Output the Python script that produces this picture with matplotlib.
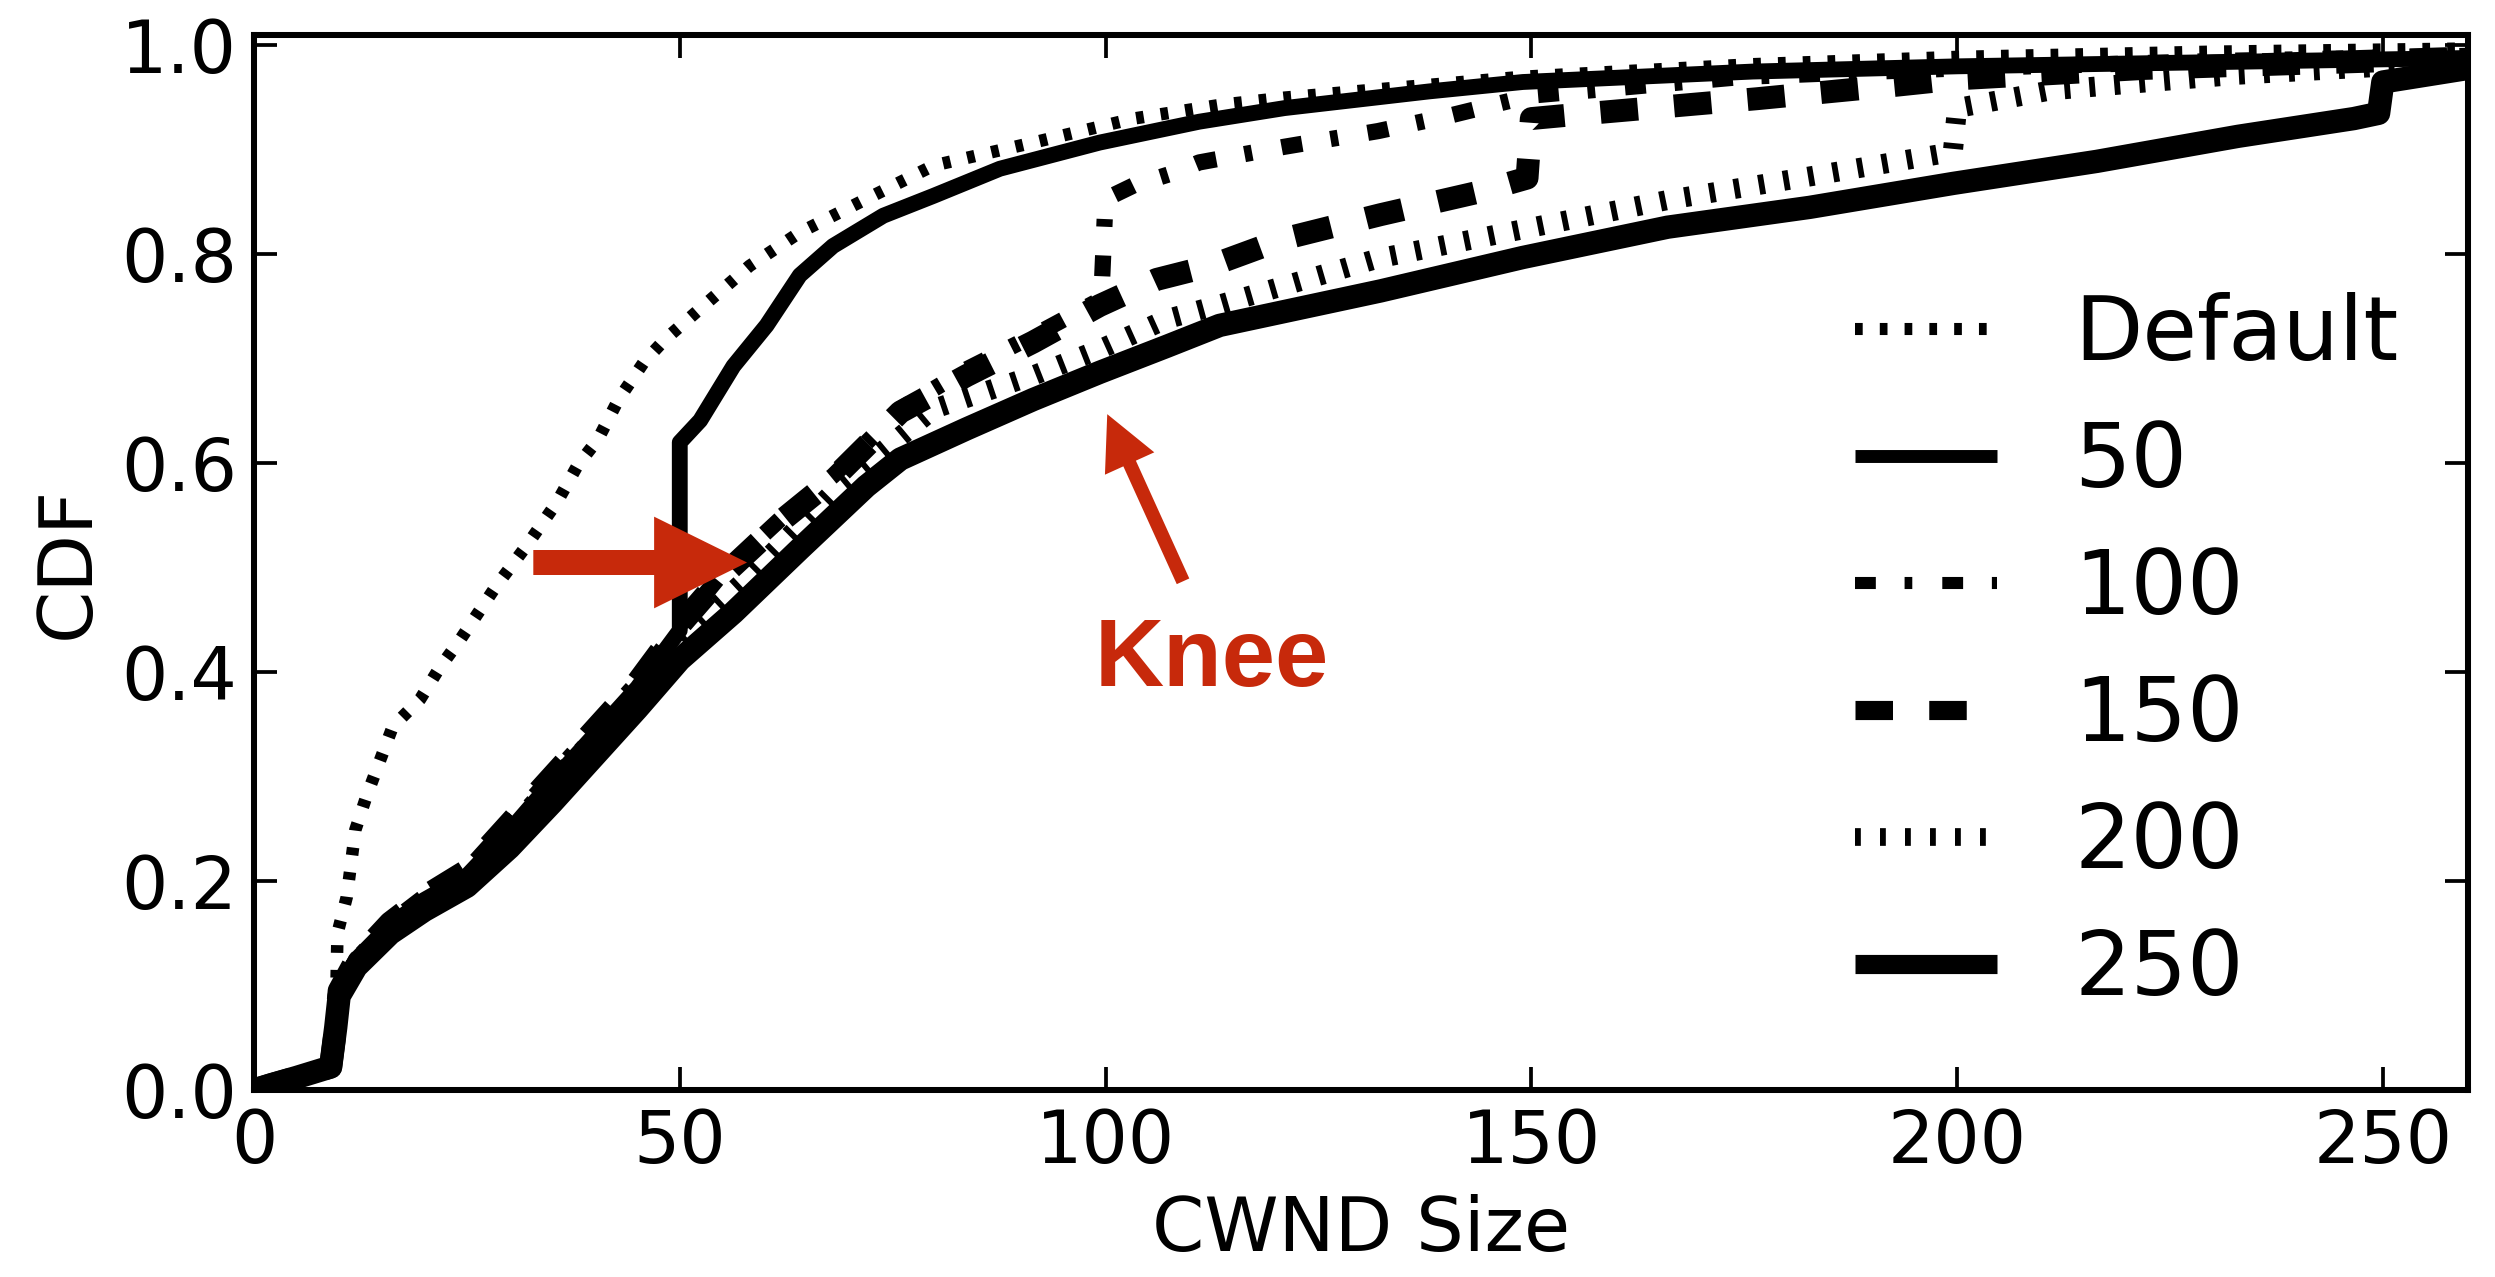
import matplotlib
matplotlib.use("Agg")
import matplotlib.pyplot as plt

plt.rcParams['font.family'] = ['DejaVu Sans']
plt.rcParams['lines.scale_dashes'] = False

# ---------------- data ----------------
labels = ["Default", "50", "100", "150", "200", "250"]

x_default = [0, 3, 6, 9.5, 9.8, 10.9, 11.9, 13.2, 16.3, 19.5, 21.7, 24.2, 28.4, 32, 35.6, 38,
             40.4, 42.8, 45.8, 48.2, 52.4, 58.2, 64.1, 71.9, 79.8, 91.5, 103.3, 113.4,
             121, 132, 149, 176, 200, 230, 260]
y_default = [0, 0.008, 0.015, 0.022, 0.15, 0.185, 0.249, 0.281, 0.348, 0.374, 0.403, 0.431,
             0.482, 0.521, 0.563, 0.598, 0.623, 0.661, 0.697, 0.718, 0.748, 0.789, 0.821,
             0.853, 0.885, 0.907, 0.93, 0.943, 0.950, 0.958, 0.970, 0.982, 0.989, 0.994,
             0.997]

x_50 = [0, 2, 5, 9, 9.6, 10, 12, 16, 20, 25, 30, 35, 40, 45, 50, 50, 52.4, 56.3, 60.2, 64.1,
        68, 73.9, 79.8, 87.6, 99.3, 111, 121, 138, 149, 176, 200, 230, 260]
y_50 = [0, 0.005, 0.012, 0.022, 0.06, 0.095, 0.125, 0.158, 0.182, 0.205, 0.248, 0.295, 0.34,
        0.385, 0.44, 0.62, 0.641, 0.693, 0.732, 0.78, 0.808, 0.837, 0.856, 0.882, 0.907,
        0.927, 0.940, 0.956, 0.965, 0.975, 0.980, 0.984, 0.988]

x_100 = [0, 2, 5, 9, 9.6, 10, 12, 16, 20, 25, 30, 35, 40, 45, 50, 55, 62, 68, 75.9, 83.7,
         91.5, 99.5, 100, 103.3, 108, 111, 121, 132, 140, 150, 175, 200, 230, 260]
y_100 = [0, 0.005, 0.012, 0.022, 0.06, 0.095, 0.125, 0.16, 0.185, 0.21, 0.255, 0.30, 0.345,
         0.39, 0.445, 0.495, 0.548, 0.588, 0.652, 0.69, 0.722, 0.757, 0.853, 0.866, 0.878,
         0.888, 0.903, 0.918, 0.932, 0.952, 0.97, 0.978, 0.985, 0.99]

x_150 = [0, 2, 5, 9, 9.6, 10, 12, 16, 20, 25, 30, 35, 40, 45, 50, 55, 62.1, 68, 75.9, 83.7,
         91.5, 99.3, 106, 112.3, 121, 132.3, 143.5, 149.5, 150, 154, 176.5, 193, 200, 222, 260]
y_150 = [0, 0.005, 0.012, 0.022, 0.06, 0.095, 0.125, 0.16, 0.185, 0.21, 0.255, 0.30, 0.345,
         0.39, 0.445, 0.492, 0.546, 0.585, 0.649, 0.684, 0.716, 0.751, 0.776, 0.789, 0.815,
         0.838, 0.859, 0.873, 0.93, 0.933, 0.949, 0.962, 0.968, 0.978, 0.988]

x_200 = [0, 2, 5, 9, 9.6, 10, 12, 16, 20, 25, 30, 35, 40, 45, 50, 58.2, 68, 79.8, 91.5, 99.3,
         107.2, 113, 132, 149, 166, 183, 199.5, 200, 211, 233, 255, 260]
y_200 = [0, 0.005, 0.012, 0.022, 0.06, 0.093, 0.122, 0.157, 0.18, 0.205, 0.248, 0.293, 0.337,
         0.38, 0.43, 0.492, 0.572, 0.652, 0.684, 0.709, 0.738, 0.751, 0.796, 0.824, 0.852,
         0.875, 0.898, 0.94, 0.957, 0.972, 0.982, 0.985]

x_250 = [0, 2, 5, 9, 9.6, 10, 12, 16, 20, 25, 30, 35, 40, 45, 50, 56.3, 64.1, 71.9, 75.9,
         83.7, 91.5, 99.3, 107.2, 113.4, 132.3, 149, 166, 182.7, 199.6, 216.4, 233, 246.6,
         249.5, 250, 260]
y_250 = [0, 0.005, 0.012, 0.022, 0.06, 0.09, 0.118, 0.15, 0.172, 0.195, 0.232, 0.275, 0.32,
         0.365, 0.412, 0.457, 0.518, 0.578, 0.604, 0.633, 0.661, 0.687, 0.712, 0.732, 0.765,
         0.797, 0.826, 0.845, 0.868, 0.889, 0.913, 0.93, 0.935, 0.965, 0.978]

xticks = [0, 50, 100, 150, 200, 250]
yticks = [0.0, 0.2, 0.4, 0.6, 0.8, 1.0]

# ---------------- styles ----------------
series = [
    (x_default, y_default, dict(lw=3.0, dashes=(1.85, 4.1))),
    (x_50, y_50, dict(lw=3.8, linestyle='-')),
    (x_100, y_100, dict(lw=3.9, dashes=(5.0, 6.9, 1.85, 7.2))),
    (x_150, y_150, dict(lw=5.5, dashes=(9.0, 8.7))),
    (x_200, y_200, dict(lw=4.8, dashes=(1.4, 4.6))),
    (x_250, y_250, dict(lw=5.6, linestyle='-')),
]
legend_lws = [2.9, 3.1, 2.9, 4.6, 4.25, 4.6]

red = '#C7290B'

fig = plt.figure(figsize=(2495 / 300, 1277 / 300), dpi=300)
ax = fig.add_axes([254 / 2495, 1 - 1090 / 1277, (2468 - 254) / 2495, (1090 - 35) / 1277])

for (xs, ys, st), lab in zip(series, labels):
    kw = dict(st)
    lw = kw.pop('lw')
    ax.plot(xs, ys, color='black', linewidth=lw, label=lab,
            solid_capstyle='round', solid_joinstyle='round', **kw)

ax.set_xlim(0, 260)
ax.set_ylim(0, 1.01)
ax.set_xticks(xticks)
ax.set_xticklabels([str(v) for v in xticks])
ax.set_yticks(yticks)
ax.set_yticklabels([f"{v:.1f}" for v in yticks])
ax.tick_params(direction='in', top=True, right=True, length=5.5, width=0.9,
               labelsize=17.5, pad=4)
for sp in ax.spines.values():
    sp.set_linewidth(1.45)

ax.set_xlabel("CWND Size", fontsize=18)
ax.set_ylabel("CDF", fontsize=18)

leg = ax.legend(loc='upper left', bbox_to_anchor=(0.707, 0.790), frameon=False,
                fontsize=21.3, handlelength=1.6, handletextpad=0.87, labelspacing=0.45,
                borderaxespad=0, borderpad=0.4)
for line, lw in zip(leg.get_lines(), legend_lws):
    line.set_linewidth(lw)
    line.set_solid_capstyle('butt')
    line.set_dash_capstyle('butt')

# red annotations
ax.annotate('', xy=(57.9, 0.505), xytext=(32.8, 0.505),
            arrowprops=dict(arrowstyle='simple,head_length=22.3,head_width=22,tail_width=6',
                            mutation_scale=1, color=red, lw=0, shrinkA=0, shrinkB=0))
ax.annotate('', xy=(100.2, 0.647), xytext=(109.1, 0.487),
            arrowprops=dict(arrowstyle='simple,head_length=13,head_width=13,tail_width=3.3',
                            mutation_scale=1, color=red, lw=0, shrinkA=0, shrinkB=0))
ax.text(112.5, 0.387, 'Knee', ha='center', va='baseline', fontsize=23,
        fontweight='bold', color=red, family=['Liberation Sans', 'DejaVu Sans'])

fig.savefig('out.png', dpi=300)
